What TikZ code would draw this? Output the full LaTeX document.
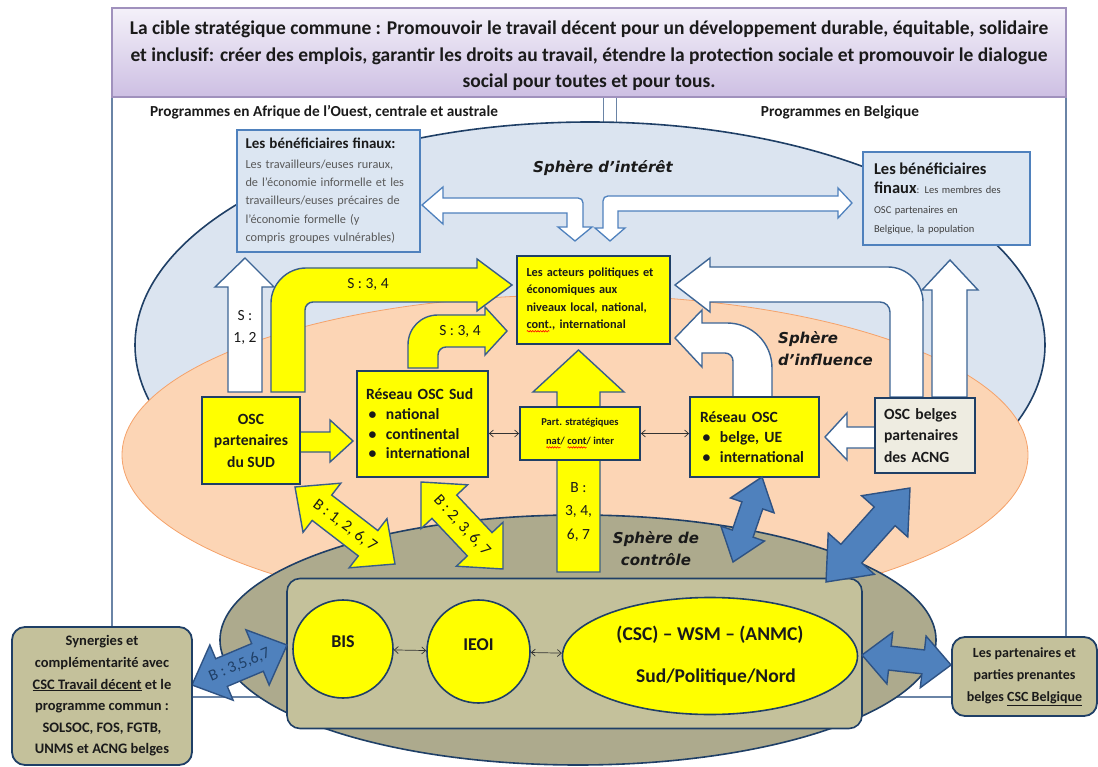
\documentclass[tikz,border=0pt]{standalone}
\usepackage{fontspec}
\setmainfont{Carlito}
\newfontfamily\verd{DejaVu Sans}
\usetikzlibrary{calc,shapes.geometric,arrows.meta,decorations.pathmorphing}
\definecolor{navy}{HTML}{1F3F66}
\definecolor{yel}{HTML}{FFFF00}
\definecolor{ybd}{HTML}{385D8A}
\definecolor{abl}{HTML}{4F81BD}
\definecolor{abd}{HTML}{2E5283}
\definecolor{wbd}{HTML}{3D6595}
\definecolor{lbl}{HTML}{DBE4F0}
\definecolor{peach}{HTML}{FCD5B5}
\definecolor{peachb}{HTML}{F5A26A}
\definecolor{olivg}{HTML}{ADAA8D}
\definecolor{tanf}{HTML}{C4C19B}
\definecolor{boxbl}{HTML}{DCE6F2}
\definecolor{boxbd}{HTML}{4F81BD}
\definecolor{greyfill}{HTML}{EEECE1}
\definecolor{frmc}{HTML}{6A84A6}
\definecolor{txtg}{HTML}{595959}
\definecolor{txtd}{HTML}{404040}
\definecolor{txt}{HTML}{1A1A1A}
\definecolor{bant}{HTML}{F4F1F9}
\definecolor{banbt}{HTML}{CDBFE3}
\definecolor{banb}{HTML}{A091BD}
\newcommand\bul{\makebox[20pt][l]{\hspace{2.5pt}\textbullet}}
\newsavebox\splbox
\newcommand\spl[1]{\leavevmode\sbox\splbox{#1}\rlap{\tikz[baseline=0pt]\draw[red,line width=0.6pt,decorate,decoration={snake,amplitude=0.7pt,segment length=2.6pt}] (0pt,-2.4pt) -- (\wd\splbox,-2.4pt);}\usebox\splbox}
\newcommand\dblarrow[6]{%
 \draw[#1] (#2)
  -- ($(#2)!#6!(#3)!#5!90:(#3)$)
  -- ($(#2)!#6!(#3)!#4!90:(#3)$)
  -- ($(#3)!#6!(#2)!#4!-90:(#2)$)
  -- ($(#3)!#6!(#2)!#5!-90:(#2)$)
  -- (#3)
  -- ($(#3)!#6!(#2)!#5!90:(#2)$)
  -- ($(#3)!#6!(#2)!#4!90:(#2)$)
  -- ($(#2)!#6!(#3)!#4!-90:(#3)$)
  -- ($(#2)!#6!(#3)!#5!-90:(#3)$)
  -- cycle;}
\begin{document}
\begin{tikzpicture}[x=1pt,y=-1pt,
 ybox/.style={draw=navy,line width=1.8pt,fill=yel,inner sep=0pt,text=txt},
 benbox/.style={draw=boxbd,line width=1.8pt,fill=boxbl,inner sep=0pt},
 warr/.style={fill=white,draw=wbd,line width=1.4pt},
 warl/.style={fill=white,draw=boxbd,line width=1.3pt},
 yarr/.style={fill=yel,draw=ybd,line width=1.4pt},
 barr/.style={fill=abl,draw=abd,line width=1.4pt},
 albl/.style={font=\fontsize{15.5}{18}\selectfont,text=txt,inner sep=0pt},
 dlbl/.style={font=\fontsize{16}{18}\selectfont,text=txt,inner sep=0pt},
 sph/.style={font=\verd\bfseries\itshape\fontsize{15}{22}\selectfont,text=txt,inner sep=0pt},
 thinarr/.style={<->,>={Straight Barb[length=4pt,width=7pt]},line width=0.7pt,draw=black!80},
 tanbox/.style={draw=navy,line width=1.8pt,fill=tanf,rounded corners=13pt,inner sep=0pt,text=txt},
 ycirc/.style={ellipse,draw=navy,line width=1.6pt,fill=yel,inner sep=0pt,text=txt}
]
\useasboundingbox (0,0) rectangle (1098,767);
% frame
\node[draw=frmc,line width=1.2pt,minimum width=954pt,minimum height=600pt,inner sep=0pt] (frm) at (589,397) {};
\draw[frmc,line width=1pt] (603,97) -- (603,200) (616,97) -- (616,200);
% banner
\node[draw=banb,line width=1.2pt,top color=bant,bottom color=banbt,minimum width=954pt,minimum height=89pt,inner sep=0pt,align=center,text=txt,font=\fontsize{19.5}{26.5}\selectfont\bfseries] (ban) at (589,52.5)
 {\rule{0pt}{21pt}La cible stratégique commune : Promouvoir le travail décent pour un développement durable, équitable, solidaire\\
  et inclusif: créer des emplois, garantir les droits au travail, étendre la protection sociale et promouvoir le dialogue\\
  social pour toutes et pour tous.};
\node[font=\fontsize{15.3}{17}\selectfont\bfseries,text=txt,inner sep=0pt] (pa) at (324,112) {Programmes en Afrique de l’Ouest, centrale et australe};
\node[font=\fontsize{15.3}{17}\selectfont\bfseries,text=txt,inner sep=0pt] (pb) at (840,112) {Programmes en Belgique};
% spheres
\node[ellipse,draw=navy,line width=1.6pt,fill=lbl,minimum width=910pt,minimum height=446pt,inner sep=0pt] (sint) at (590,345) {};
\node[ellipse,draw=peachb,line width=0.8pt,fill=peach,minimum width=906pt,minimum height=320pt,inner sep=0pt] (sinf) at (575,455) {};
\node[ellipse,draw=navy,line width=1.6pt,fill=olivg,minimum width=716pt,minimum height=250pt,inner sep=0pt] (sctl) at (578,640) {};
% beneficiaries
\node[benbox,minimum width=183pt,minimum height=122pt,text width=166pt,align=left,text=txtg,font=\fontsize{12.3}{18.4}\selectfont] (ben1) at (328.5,191)
 {{\fontsize{15}{18}\selectfont\bfseries\color{txt}Les bénéficiaires finaux:}\\[1pt]
  Les travailleurs/euses ruraux,\\ de l’économie informelle et les\\ travailleurs/euses précaires de\\ l’économie formelle (y\\ compris groupes vulnérables)};
\node[benbox,minimum width=167pt,minimum height=93pt,text width=145pt,align=left,text=txtd,font=\fontsize{10.5}{19.5}\selectfont] (ben2) at (946.5,198.5)
 {{\fontsize{16.5}{19.5}\selectfont\bfseries\color{txt}Les bénéficiaires}\\
  {\fontsize{16.5}{19.5}\selectfont\bfseries\color{txt}finaux}: Les membres des\\ OSC partenaires en\\ Belgique, la population};
% top white arrows
\draw[warl] (422,205) -- (443,187) -- (443,198) -- (578,198) .. controls (581,198) and (583,200) .. (583,203) -- (583,227) -- (592,227) -- (575,241) -- (558,227) -- (567,227) -- (567,213) -- (443,213) -- (443,224) -- cycle;
\draw[warl] (852,203) -- (838,188) -- (838,196) -- (608,196) .. controls (605,196) and (603,198) .. (603,201) -- (603,228) -- (595,228) -- (610,241) -- (625,228) -- (618,228) -- (618,211) -- (838,211) -- (838,218) -- cycle;
\node[sph] (lsi) at (603,168) {Sphère d’intérêt};
% actors
\node[ybox,minimum width=153pt,minimum height=88pt,text width=134pt,align=left,font=\fontsize{12.3}{17.5}\selectfont\bfseries] (act) at (593.5,300)
 {Les acteurs politiques et\\ économiques aux\\ niveaux local, national,\\ \spl{cont}., international};
% left arrows
\draw[warr] (228,392) -- (228,287) -- (215,287) -- (245,258) -- (274,287) -- (262,287) -- (262,392) -- cycle;
\node[albl,align=center,font=\fontsize{15.5}{22}\selectfont] (l12) at (245,327) {S :\\1, 2};
\draw[yarr] (271,392) -- (271,303) .. controls (271,284) and (287,268) .. (306,268) -- (477,268) -- (477,259) -- (512,285) -- (477,311) -- (477,302) -- (313,302) .. controls (308.6,302) and (305,305.6) .. (305,310) -- (305,392) -- cycle;
\node[albl] (l34a) at (368,284) {S : 3, 4};
\draw[yarr] (408,368) -- (408,345) .. controls (408,328) and (421,315) .. (438,315) -- (485,315) -- (485,307) -- (507,331) -- (485,355) -- (485,347) -- (446,347) .. controls (441.6,347) and (438,350.6) .. (438,355) -- (438,368) -- cycle;
\node[albl] (l34b) at (460,331) {S : 3, 4};
% right white arrows
\draw[warr] (923,397) -- (923,302) .. controls (923,283) and (907,267) .. (888,267) -- (710,267) -- (710,258) -- (675,285) -- (710,312) -- (710,302) -- (880,302) .. controls (885.5,302) and (890,306.5) .. (890,312) -- (890,397) -- cycle;
\draw[warr] (932,397) -- (932,290) -- (922,290) -- (950,260) -- (978,290) -- (967,290) -- (967,397) -- cycle;
\draw[warr] (772,397) -- (772,368) .. controls (772,343) and (752,323) .. (727,323) -- (702,323) -- (702,310) -- (675,338) -- (702,367) -- (702,353) -- (725,353) .. controls (729.4,353) and (733,356.6) .. (733,361) -- (733,397) -- cycle;
\draw[warr] (878,427) -- (847,427) -- (847,413) -- (825,437) -- (847,460) -- (847,448) -- (878,448) -- cycle;
\node[sph,align=left,anchor=west] (lsf) at (778,349) {Sphère\\d’influence};
% south boxes
\draw[yarr] (298,432) -- (330,432) -- (330,420) -- (353,441) -- (330,462) -- (330,452) -- (298,452) -- cycle;
\node[ybox,minimum width=98pt,minimum height=87pt,align=center,font=\fontsize{15.6}{21.5}\selectfont\bfseries] (sud) at (251,440.5) {OSC\\partenaires\\du SUD};
\node[ybox,minimum width=131pt,minimum height=106pt,text width=113pt,align=left,font=\fontsize{15.6}{19.7}\selectfont\bfseries] (rsud) at (422.5,424)
 {Réseau OSC Sud\\ \bul national\\ \bul continental\\ \bul international};
\node[ybox,minimum width=129pt,minimum height=80pt,text width=109pt,align=left,font=\fontsize{15.6}{20}\selectfont\bfseries] (rbel) at (754.5,437)
 {Réseau OSC\\ \bul belge, UE\\ \bul international};
\node[draw=navy,line width=1.8pt,fill=greyfill,inner sep=0pt,text=txt,minimum width=100pt,minimum height=75pt,text width=82pt,align=left,font=\fontsize{15.6}{21.5}\selectfont\bfseries] (obel) at (925,435.5) {OSC belges\\partenaires\\des ACNG};
% central up arrow
\draw[yarr] (557,572) -- (557,392) -- (533,392) -- (578.5,350) -- (624,392) -- (600,392) -- (600,572) -- cycle;
\node[albl,align=center,font=\fontsize{15.5}{23.5}\selectfont] (lb34) at (578.5,512) {B :\\3, 4,\\6, 7};
\node[ybox,minimum width=120pt,minimum height=53pt,align=center,font=\fontsize{10.5}{19}\selectfont\bfseries] (part) at (580,433.5)
 {Part. stratégiques\\ \spl{nat}/ \spl{cont}/ inter};
\draw[thinarr] (rsud.east |- part.west) -- (part.west);
\draw[thinarr] (part.east) -- (rbel.west |- part.east);
% diagonal yellow arrows
\coordinate (y1a) at (295,487); \coordinate (y1b) at (395,564);
\dblarrow{yarr}{y1a}{y1b}{16pt}{31pt}{34pt}
\node[dlbl,rotate=-37] (ly1) at ($(y1a)!0.5!(y1b)$) {B : 1, 2, 6, 7};
\coordinate (y2a) at (421,482); \coordinate (y2b) at (503,569);
\dblarrow{yarr}{y2a}{y2b}{17pt}{32pt}{34pt}
\node[dlbl,rotate=-47] (ly2) at ($(y2a)!0.5!(y2b)$) {B : 2, 3, 6, 7};
\node[sph,align=center] (lsc) at (656,549) {Sphère de\\contrôle};
% control zone
\node[tanbox,line width=1.6pt,minimum width=575pt,minimum height=150pt] (ctrl) at (574.5,653.5) {};
\node[ycirc,minimum width=100pt,minimum height=98pt,font=\fontsize{18}{20}\selectfont\bfseries,text height=12pt,text depth=16pt] (bis) at (343,649) {BIS};
\node[ycirc,minimum width=103pt,minimum height=103pt,font=\fontsize{18}{20}\selectfont\bfseries,text height=12pt,text depth=14pt] (ieoi) at (478.5,651.5) {IEOI};
\node[ycirc,minimum width=295pt,minimum height=117pt,align=center,font=\fontsize{19.5}{42}\selectfont\bfseries] (csc) at (710,656) {(CSC) – WSM – (ANMC)\\\hspace*{12pt}Sud/Politique/Nord};
\draw[thinarr] (bis) -- (ieoi);
\draw[thinarr] (ieoi) -- (csc);
% blue arrows
\coordinate (b1a) at (762,477); \coordinate (b1b) at (733,562);
\dblarrow{barr}{b1a}{b1b}{11pt}{23pt}{30pt}
\coordinate (b2a) at (910,488); \coordinate (b2b) at (826,582);
\dblarrow{barr}{b2a}{b2b}{14pt}{31pt}{38pt}
\coordinate (b3a) at (862,655); \coordinate (b3b) at (951,665);
\dblarrow{barr}{b3a}{b3b}{12pt}{26pt}{28pt}
\coordinate (b4a) at (192,685); \coordinate (b4b) at (287,645);
\dblarrow{barr}{b4a}{b4b}{15pt}{30pt}{32pt}
\node[dlbl,rotate=23,text=navy,font=\fontsize{16}{18}\selectfont] (lb4) at ($(b4a)!0.5!(b4b)$) {B : 3,5,6,7};
% bottom boxes
\node[tanbox,minimum width=180pt,minimum height=138pt,align=center,font=\fontsize{14.5}{21.6}\selectfont\bfseries] (syn) at (102,696)
 {Synergies et\\ complémentarité avec\\ \underline{CSC Travail décent} et le\\ programme commun :\\ SOLSOC, FOS, FGTB,\\ UNMS et ACNG belges};
\node[tanbox,minimum width=145pt,minimum height=79pt,align=center,font=\fontsize{14}{22}\selectfont\bfseries] (cscb) at (1024.5,676.5)
 {Les partenaires et\\ parties prenantes\\ belges \underline{CSC Belgique}};
\end{tikzpicture}
\end{document}
